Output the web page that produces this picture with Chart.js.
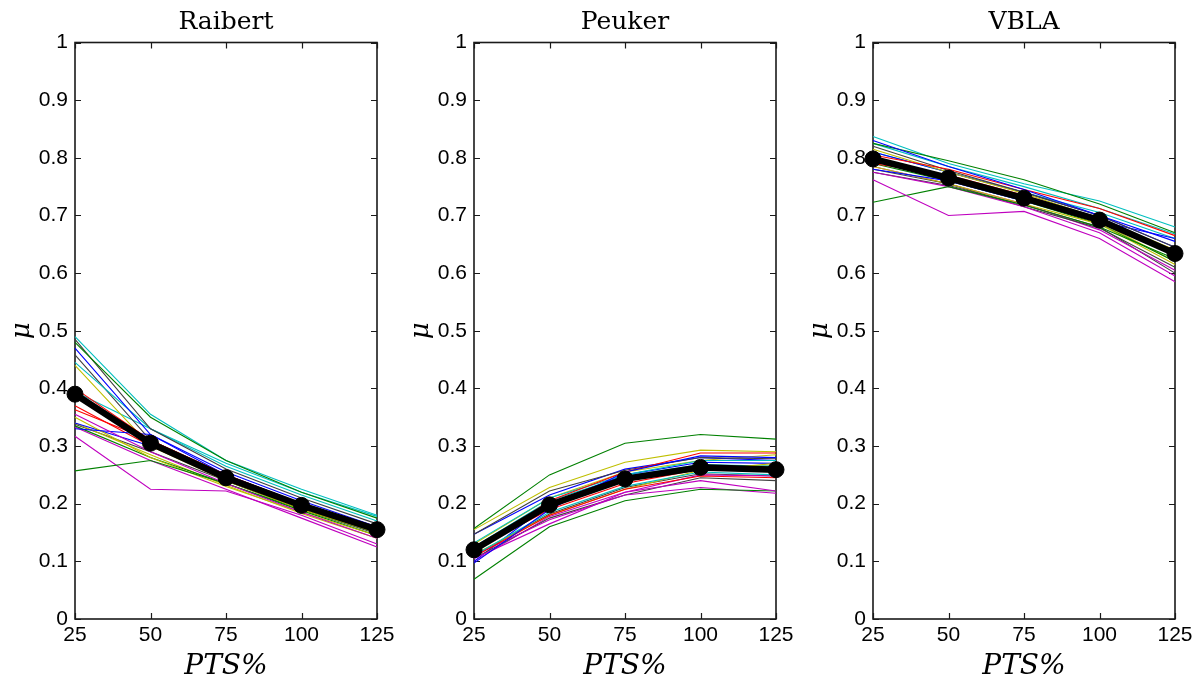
<!DOCTYPE html>
<html><head><meta charset="utf-8">
<script src="https://cdn.jsdelivr.net/npm/chart.js@4.4.1/dist/chart.umd.min.js"></script>
<style>
html,body{margin:0;padding:0;background:#fff;width:1200px;height:684px;overflow:hidden}
.p{position:absolute;top:0;width:400px;height:684px}
</style></head>
<body>
<div class="p" style="left:0px"><canvas id="c0" width="400" height="684"></canvas></div>
<div class="p" style="left:399px"><canvas id="c1" width="400" height="684"></canvas></div>
<div class="p" style="left:798px"><canvas id="c2" width="400" height="684"></canvas></div>
<script>
// ---------- data ----------
const categories = [25, 50, 75, 100, 125];
const xTicks = [25, 50, 75, 100, 125];
const yTicks = [0, 0.1, 0.2, 0.3, 0.4, 0.5, 0.6, 0.7, 0.8, 0.9, 1];
const panelTitles = ['Raibert', 'Peuker', 'VBLA'];
const xLabel = 'PTS%';
const yLabel = 'μ';
const runColors = ['rgb(0,0,255)', 'rgb(0,128,0)', 'rgb(255,0,0)', 'rgb(0,191,191)', 'rgb(191,0,191)', 'rgb(191,191,0)', 'rgb(64,64,64)'];

const raibertMean = [0.39, 0.305, 0.245, 0.197, 0.155];
const raibertRuns = [
  [0.47, 0.32, 0.255, 0.205, 0.16],
  [0.48, 0.35, 0.275, 0.22, 0.175],
  [0.40, 0.31, 0.25, 0.20, 0.16],
  [0.49, 0.355, 0.275, 0.225, 0.18],
  [0.355, 0.29, 0.235, 0.185, 0.14],
  [0.44, 0.30, 0.24, 0.19, 0.15],
  [0.485, 0.33, 0.26, 0.21, 0.165],
  [0.33, 0.32, 0.25, 0.20, 0.155],
  [0.257, 0.275, 0.235, 0.19, 0.15],
  [0.37, 0.30, 0.245, 0.195, 0.155],
  [0.445, 0.33, 0.265, 0.215, 0.17],
  [0.317, 0.225, 0.222, 0.18, 0.13],
  [0.35, 0.28, 0.23, 0.185, 0.145],
  [0.458, 0.31, 0.25, 0.20, 0.158],
  [0.34, 0.30, 0.245, 0.198, 0.158],
  [0.335, 0.28, 0.235, 0.188, 0.145],
  [0.363, 0.31, 0.25, 0.20, 0.16],
  [0.394, 0.33, 0.27, 0.22, 0.178],
  [0.333, 0.275, 0.225, 0.175, 0.125],
  [0.34, 0.285, 0.232, 0.183, 0.14],
  [0.338, 0.29, 0.24, 0.19, 0.148]
];

const peukerMean = [0.12, 0.198, 0.243, 0.263, 0.259];
const peukerRuns = [
  [0.097, 0.19, 0.255, 0.283, 0.28],
  [0.157, 0.25, 0.305, 0.32, 0.312],
  [0.115, 0.205, 0.255, 0.288, 0.288],
  [0.132, 0.21, 0.25, 0.275, 0.275],
  [0.105, 0.165, 0.22, 0.24, 0.222],
  [0.155, 0.228, 0.272, 0.293, 0.29],
  [0.147, 0.222, 0.258, 0.28, 0.278],
  [0.147, 0.215, 0.26, 0.28, 0.275],
  [0.069, 0.16, 0.205, 0.225, 0.222],
  [0.108, 0.18, 0.225, 0.248, 0.245],
  [0.11, 0.185, 0.23, 0.255, 0.25],
  [0.11, 0.172, 0.215, 0.228, 0.218],
  [0.112, 0.18, 0.225, 0.258, 0.27],
  [0.105, 0.175, 0.215, 0.245, 0.24],
  [0.10, 0.20, 0.25, 0.272, 0.27],
  [0.12, 0.20, 0.245, 0.265, 0.265],
  [0.12, 0.19, 0.235, 0.26, 0.255],
  [0.125, 0.205, 0.248, 0.268, 0.265],
  [0.10, 0.178, 0.22, 0.25, 0.248],
  [0.13, 0.21, 0.255, 0.275, 0.285],
  [0.11, 0.182, 0.228, 0.252, 0.248]
];

const vblaMean = [0.798, 0.765, 0.73, 0.692, 0.634];
const vblaRuns = [
  [0.83, 0.785, 0.745, 0.70, 0.655],
  [0.825, 0.795, 0.762, 0.72, 0.67],
  [0.805, 0.78, 0.745, 0.712, 0.665],
  [0.837, 0.79, 0.755, 0.725, 0.68],
  [0.762, 0.70, 0.707, 0.66, 0.585],
  [0.815, 0.775, 0.738, 0.695, 0.64],
  [0.82, 0.778, 0.74, 0.70, 0.645],
  [0.78, 0.76, 0.725, 0.69, 0.66],
  [0.723, 0.75, 0.718, 0.68, 0.625],
  [0.79, 0.77, 0.735, 0.695, 0.63],
  [0.825, 0.785, 0.75, 0.712, 0.668],
  [0.775, 0.75, 0.715, 0.67, 0.595],
  [0.785, 0.755, 0.72, 0.685, 0.615],
  [0.78, 0.755, 0.715, 0.678, 0.61],
  [0.81, 0.775, 0.74, 0.70, 0.645],
  [0.79, 0.76, 0.725, 0.685, 0.62],
  [0.795, 0.765, 0.73, 0.69, 0.64],
  [0.81, 0.775, 0.74, 0.705, 0.66],
  [0.785, 0.755, 0.72, 0.675, 0.605],
  [0.80, 0.765, 0.728, 0.688, 0.62],
  [0.775, 0.752, 0.718, 0.68, 0.60]
];

const panelMeans = [raibertMean, peukerMean, vblaMean];
const panelRuns = [raibertRuns, peukerRuns, vblaRuns];

// ---------- rendering ----------
const toPts = vals => categories.map((c, i) => ({x: c, y: vals[i]}));

const boxPlugin = {
  id: 'matlabBox',
  beforeDatasetsDraw(chart) {
    const {ctx, chartArea: a, scales: {x, y}} = chart;
    const L = 6;
    ctx.save();
    ctx.strokeStyle = '#1a1a1a';
    ctx.lineWidth = 1.6;
    ctx.strokeRect(a.left, a.top, a.right - a.left, a.bottom - a.top);
    ctx.lineWidth = 1.2;
    ctx.beginPath();
    x.ticks.forEach(t => {
      const px = Math.round(x.getPixelForValue(t.value)) + 0.5;
      ctx.moveTo(px, a.bottom); ctx.lineTo(px, a.bottom - L);
      ctx.moveTo(px, a.top); ctx.lineTo(px, a.top + L);
    });
    y.ticks.forEach(t => {
      const py = Math.round(y.getPixelForValue(t.value)) + 0.5;
      ctx.moveTo(a.left, py); ctx.lineTo(a.left + L, py);
      ctx.moveTo(a.right, py); ctx.lineTo(a.right - L, py);
    });
    ctx.stroke();
    ctx.restore();
  }
};

const tickFont = {family: '"Liberation Sans", Arial, sans-serif', size: 21};

panelTitles.forEach((title, p) => {
  const datasets = [{
    data: toPts(panelMeans[p]),
    borderColor: '#000', backgroundColor: '#000',
    borderWidth: 6.5, pointRadius: 8, pointBorderWidth: 1,
    pointBackgroundColor: '#000', pointBorderColor: '#000',
    tension: 0, clip: false
  }];
  panelRuns[p].forEach((run, i) => {
    datasets.push({
      data: toPts(run),
      borderColor: runColors[i % runColors.length],
      borderWidth: 1.1, pointRadius: 0, tension: 0, clip: false
    });
  });
  new Chart(document.getElementById('c' + p), {
    type: 'line',
    data: {datasets},
    plugins: [boxPlugin],
    options: {
      responsive: false, animation: false, devicePixelRatio: 1,
      layout: {padding: {left: 0, right: 23, top: 0, bottom: 0}},
      plugins: {
        legend: {display: false}, tooltip: {enabled: false},
        title: {
          display: true, text: title, fullSize: false, color: '#000',
          font: {family: '"DejaVu Serif", serif', size: 25, weight: 'normal'},
          padding: {top: 7, bottom: 5.5}
        }
      },
      scales: {
        x: {
          type: 'linear', min: 25, max: 125,
          afterBuildTicks: s => { s.ticks = xTicks.map(v => ({value: v})); },
          afterFit: s => { s.height = 65; },
          grid: {display: false, drawTicks: false},
          border: {display: false},
          ticks: {color: '#000', font: tickFont, padding: 4, maxRotation: 0, autoSkip: false},
          title: {display: true, text: xLabel, color: '#000',
            font: {family: '"DejaVu Serif", serif', size: 28, style: 'italic'},
            padding: {top: 0, bottom: 0}}
        },
        y: {
          type: 'linear', min: 0, max: 1,
          afterBuildTicks: s => { s.ticks = yTicks.map(v => ({value: v})); },
          afterFit: s => { s.width = 75; },
          grid: {display: false, drawTicks: false},
          border: {display: false},
          ticks: {color: '#000', font: tickFont, padding: 7,
            callback: v => String(Number(v.toFixed(1)))},
          title: {display: true, text: yLabel, color: '#000',
            font: {family: '"DejaVu Serif", serif', size: 26, style: 'italic'},
            padding: {top: 7, bottom: 0}}
        }
      }
    }
  });
});
</script>
</body></html>
